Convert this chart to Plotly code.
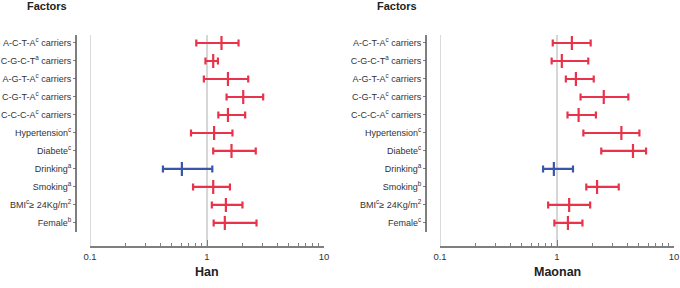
import plotly.graph_objects as go

labels_han = ["A-C-T-A<sup>c</sup> carriers", "C-G-C-T<sup>a</sup> carriers", "A-G-T-A<sup>c</sup> carriers",
              "C-G-T-A<sup>c</sup> carriers", "C-C-C-A<sup>c</sup> carriers", "Hypertension<sup>c</sup>",
              "Diabete<sup>c</sup>", "Drinking<sup>a</sup>", "Smoking<sup>a</sup>",
              "BMI<sup>c</sup>≥ 24Kg/m<sup>2</sup>", "Female<sup>b</sup>"]
labels_mao = ["A-C-T-A<sup>c</sup> carriers", "C-G-C-T<sup>a</sup> carriers", "A-G-T-A<sup>c</sup> carriers",
              "C-G-T-A<sup>c</sup> carriers", "C-C-C-A<sup>c</sup> carriers", "Hypertension<sup>c</sup>",
              "Diabete<sup>c</sup>", "Drinking<sup>a</sup>", "Smoking<sup>b</sup>",
              "BMI<sup>c</sup>≥ 24Kg/m<sup>2</sup>", "Female<sup>c</sup>"]

han_or = [1.33, 1.13, 1.51, 2.04, 1.51, 1.15, 1.62, 0.61, 1.13, 1.45, 1.42]
han_lo = [0.81, 0.97, 0.94, 1.47, 1.25, 0.73, 1.13, 0.42, 0.76, 1.10, 1.14]
han_hi = [1.86, 1.24, 2.25, 3.02, 2.12, 1.65, 2.61, 1.11, 1.57, 2.01, 2.65]

mao_or = [1.34, 1.10, 1.45, 2.51, 1.53, 3.55, 4.46, 0.94, 2.20, 1.27, 1.24]
mao_lo = [0.92, 0.90, 1.19, 1.59, 1.23, 1.68, 2.39, 0.76, 1.78, 0.84, 0.95]
mao_hi = [1.94, 1.85, 2.06, 4.07, 2.15, 5.06, 5.77, 1.37, 3.37, 1.92, 1.65]

panel_titles = ["Han", "Maonan"]
x_ticks = [0.1, 1, 10]
x_minor = [0.2, 0.3, 0.4, 0.5, 0.6, 0.7, 0.8, 0.9, 2, 3, 4, 5, 6, 7, 8, 9]

RED = "#e8334a"
BLUE = "#3a56a8"
W, H = 680, 288

def px(v):
    return v / W

def py(v):
    return 1 - v / H

fig = go.Figure()

panels = [
    dict(labels=labels_han, orv=han_or, lo=han_lo, hi=han_hi, xd=(90, 324), yax=76, suf="", fx=47),
    dict(labels=labels_mao, orv=mao_or, lo=mao_lo, hi=mao_hi, xd=(440, 674), yax=426, suf="2", fx=397),
]

pos = list(range(len(labels_han)))

for i, p in enumerate(panels):
    colors = [BLUE if "Drinking" in l else RED for l in p["labels"]]
    for idx in pos:
        c = colors[idx]
        fig.add_trace(go.Scatter(
            x=[p["orv"][idx]], y=[idx], mode="markers",
            xaxis="x" + p["suf"], yaxis="y" + p["suf"],
            marker=dict(symbol="line-ns", size=10, line=dict(color=c, width=2.2), color=c),
            error_x=dict(type="data", symmetric=False,
                         array=[p["hi"][idx] - p["orv"][idx]],
                         arrayminus=[p["orv"][idx] - p["lo"][idx]],
                         color=c, thickness=2.2, width=3.5),
            showlegend=False, hoverinfo="skip"))

    xa = dict(type="log", range=[-1, 1], domain=[px(p["xd"][0]), px(p["xd"][1])],
              anchor="y" + p["suf"], showline=True, linecolor="#7f7f7f", linewidth=1.5,
              ticks="inside", ticklen=6, tickcolor="#7f7f7f", tickwidth=1,
              tickvals=x_ticks, ticktext=["0.1", "1", "10"], ticklabelstandoff=1,
              tickfont=dict(family="Liberation Sans, Arial", size=9.5, color="#333333"),
              showgrid=True, gridcolor="#d6d6d6", gridwidth=1.8,
              minor=dict(ticks="inside", ticklen=3, tickcolor="#7f7f7f", tickwidth=1,
                         tickvals=x_minor, showgrid=False),
              zeroline=False, automargin=False, fixedrange=True)
    ya = dict(range=[11.28, -0.444], domain=[py(246), py(35)], anchor="free", position=px(p["yax"]),
              tickvals=pos, ticktext=p["labels"], ticks="outside", ticklen=3, tickcolor="#7f7f7f",
              tickfont=dict(family="Liberation Sans, Arial", size=9, color="#333333"),
              showline=False, showgrid=False, zeroline=False, automargin=False, fixedrange=True)
    fig.update_layout(**{"xaxis" + p["suf"]: xa, "yaxis" + p["suf"]: ya})

    # grid line at the left edge of the log axis (0.1)
    fig.add_shape(type="line", xref="x" + p["suf"], yref="paper",
                  x0=x_ticks[0], x1=x_ticks[0], y0=py(246), y1=py(35),
                  line=dict(color="#d6d6d6", width=1.8), layer="below")
    fig.add_shape(type="line", xref="paper", yref="paper",
                  x0=px(p["yax"]), x1=px(p["yax"]), y0=py(35), y1=py(232),
                  line=dict(color="#555555", width=1.5))
    fig.add_annotation(text="<b>Factors</b>", xref="paper", yref="paper",
                       x=px(p["fx"]), y=py(6), showarrow=False, xanchor="center", yanchor="middle",
                       font=dict(family="Liberation Sans, Arial", size=11, color="#222222"))
    fig.add_annotation(text="<b>" + panel_titles[i] + "</b>", xref="paper", yref="paper",
                       x=px((p["xd"][0] + p["xd"][1]) / 2), y=py(272), showarrow=False,
                       xanchor="center", yanchor="middle",
                       font=dict(family="Liberation Sans, Arial", size=12.5, color="#222222"))

fig.update_layout(width=W, height=H, margin=dict(l=0, r=0, t=0, b=0),
                  plot_bgcolor="white", paper_bgcolor="white")

fig.write_html("out.html", config={"displayModeBar": False},
               post_script="document.body.style.margin='0';")
